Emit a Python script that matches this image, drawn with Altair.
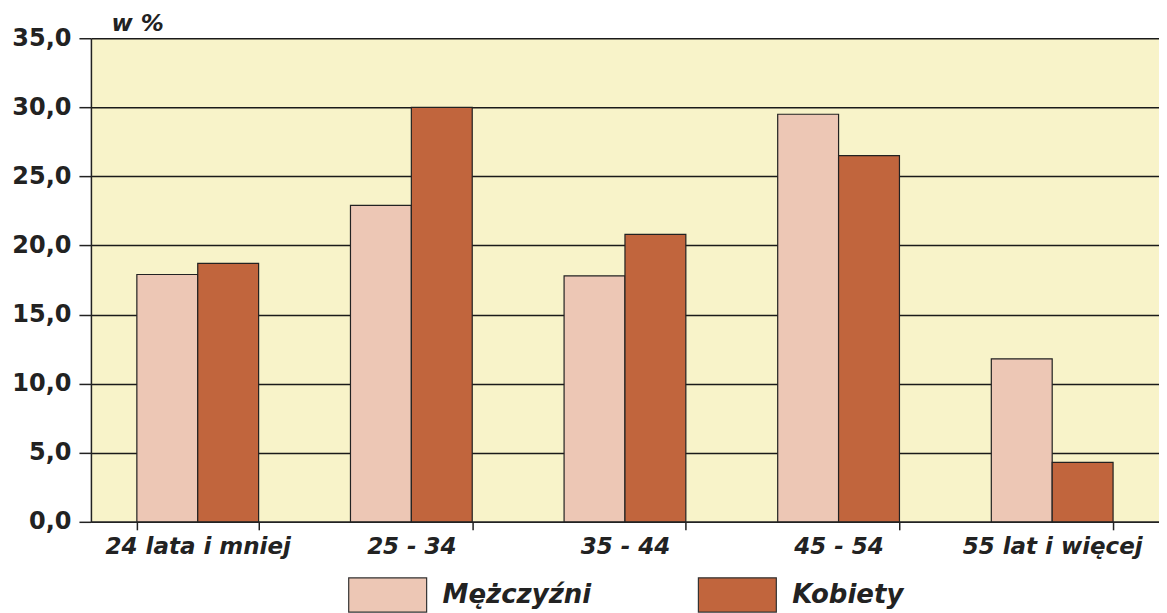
import altair as alt
import pandas as pd

categories = ["24 lata i mniej", "25 - 34", "35 - 44", "45 - 54", "55 lat i więcej"]
series = ["Mężczyźni", "Kobiety"]
men = [17.9, 22.9, 17.8, 29.5, 11.8]
women = [18.7, 30.0, 20.8, 26.5, 4.3]
y_ticks = [0, 5, 10, 15, 20, 25, 30, 35]
colors = ["#EDC7B5", "#C1653D"]

rows = []
for c, m, w in zip(categories, men, women):
    rows.append({"grupa": c, "plec": series[0], "wartosc": m})
    rows.append({"grupa": c, "plec": series[1], "wartosc": w})
df = pd.DataFrame(rows)

label_font = "DejaVu Sans"
rect_path = "M-1,-0.44L1,-0.44L1,0.44L-1,0.44Z"

chart = alt.Chart(df).mark_bar(stroke="#222222", strokeWidth=1.2).encode(
    x=alt.X("grupa:N", sort=categories, title=None,
            scale=alt.Scale(paddingInner=0.43, paddingOuter=0.215),
            axis=alt.Axis(labelAngle=0, labelFont=label_font, labelFontSize=23,
                          labelFontWeight="bold", labelFontStyle="italic",
                          labelColor="#222222", labelPadding=6, labelLimit=400,
                          labelOverlap=False,
                          tickBand="extent", tickSize=8, tickColor="#222222",
                          tickWidth=1.5, domainColor="#222222", domainWidth=1.5,
                          grid=False)),
    xOffset=alt.XOffset("plec:N", sort=series,
                        scale=alt.Scale(paddingInner=0, paddingOuter=0)),
    y=alt.Y("wartosc:Q", title="w %",
            scale=alt.Scale(domain=[0, 35], nice=False),
            axis=alt.Axis(values=y_ticks,
                          labelExpr="replace(format(datum.value, '.1f'), '.', ',')",
                          labelFont=label_font, labelFontSize=24, labelFontWeight="bold",
                          labelColor="#222222", labelPadding=8,
                          tickSize=12, tickColor="#222222", tickWidth=1.5,
                          domainColor="#222222", domainWidth=1.5,
                          grid=True, gridColor="#1a1a1a", gridWidth=1.5, gridOpacity=1,
                          titleAngle=0, titleAlign="left", titleBaseline="alphabetic",
                          titleX=20, titleY=-8, titleFont=label_font, titleFontSize=23,
                          titleFontWeight="bold", titleFontStyle="italic",
                          titleColor="#222222")),
    color=alt.Color("plec:N", sort=series,
                    scale=alt.Scale(domain=series, range=colors),
                    legend=alt.Legend(title=None, orient="none", legendX=257, legendY=517,
                                      direction="horizontal", columns=2,
                                      symbolType=rect_path, symbolSize=6084,
                                      symbolStrokeColor="#333333", symbolStrokeWidth=1.2,
                                      symbolOpacity=1,
                                      labelFont=label_font, labelFontSize=26,
                                      labelFontWeight="bold", labelFontStyle="italic",
                                      labelColor="#222222", labelOffset=15,
                                      columnPadding=104)),
).properties(
    width=1069, height=484,
    padding={"left": 3, "top": 4, "right": 0, "bottom": 0},
).configure_view(
    fill="#F8F3C9", stroke=None
)

chart.save("out.html", embed_options={"renderer": "svg", "actions": False})
